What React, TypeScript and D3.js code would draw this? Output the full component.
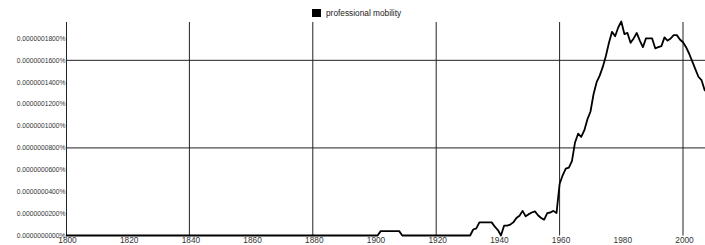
import * as d3 from "d3";

const WIDTH = 705;
const HEIGHT = 245;
const MARGIN = { top: 22, right: 0, bottom: 9.5, left: 66 };

const SERIES_NAME = "professional mobility";

// years 1800..2008, values in units of 0.0000000001 %
const START_YEAR = 1800;
const ZERO_1800_1901 = Array(102).fill(0);
const VALUES_1902_2008 = [
  40, 40, 40, 40, 40, 40, 40, 0, 0, 0, // 1902-1911
  0, 0, 0, 0, 0, 0, 0, 0, 0, 0, // 1912-1921
  0, 0, 0, 0, 0, 0, 0, 0, 0, 0, // 1922-1931
  55, 65, 120, 120, 120, 120, 120, 80, 50, 0, // 1932-1941
  90, 90, 100, 120, 160, 180, 225, 175, 195, 210, // 1942-1951
  220, 185, 160, 145, 205, 210, 225, 205, 470, 550, // 1952-1961
  610, 620, 680, 850, 930, 900, 960, 1060, 1130, 1290, // 1962-1971
  1400, 1460, 1540, 1640, 1760, 1860, 1820, 1900, 1955, 1840, // 1972-1981
  1850, 1760, 1800, 1850, 1780, 1720, 1800, 1800, 1800, 1710, // 1982-1991
  1720, 1730, 1810, 1780, 1800, 1830, 1830, 1790, 1765, 1720, // 1992-2001
  1660, 1590, 1520, 1450, 1420, 1330, 1300, // 2002-2008
];
const VALUES = [...ZERO_1800_1901, ...VALUES_1902_2008];

const X_TICKS = [1800, 1820, 1840, 1860, 1880, 1900, 1920, 1940, 1960, 1980, 2000];
const X_GRID = [1840, 1880, 1920, 1960, 2000];
const Y_TICKS = [0, 200, 400, 600, 800, 1000, 1200, 1400, 1600, 1800];
const Y_GRID = [800, 1600];

const fmtY = (v: number) => `0.${String(v).padStart(10, "0")}%`;

export default function App() {
  const data = VALUES.map((v, i) => ({ year: START_YEAR + i, value: v }));

  const xScale = d3
    .scaleLinear()
    .domain([1800, 2008])
    .range([MARGIN.left, MARGIN.left + 208 * 3.085]);
  const yScale = d3
    .scaleLinear()
    .domain([0, 1950])
    .range([HEIGHT - MARGIN.bottom, MARGIN.top]);

  const line = d3
    .line<{ year: number; value: number }>()
    .x((d) => xScale(d.year))
    .y((d) => yScale(d.value));

  const plotBottom = yScale(0);
  const font = "'Liberation Sans', Arial, sans-serif";

  return (
    <svg
      width={WIDTH}
      height={HEIGHT}
      style={{ position: "absolute", left: 0, top: 0, background: "#fff" }}
    >
      <defs>
        <clipPath id="plot">
          <rect x={MARGIN.left} y={0} width={WIDTH - MARGIN.left} height={HEIGHT} />
        </clipPath>
      </defs>

      {/* legend */}
      <rect x={312} y={9} width={9} height={8} fill="#000" />
      <text x={326} y={16} fontSize={8.3} fontFamily={font} fill="#222">
        {SERIES_NAME}
      </text>

      {/* grid */}
      {X_GRID.map((yr) => (
        <line
          key={yr}
          x1={xScale(yr)}
          x2={xScale(yr)}
          y1={MARGIN.top}
          y2={plotBottom}
          stroke="#222"
          strokeWidth={1}
        />
      ))}
      {Y_GRID.map((v) => (
        <line
          key={v}
          x1={MARGIN.left}
          x2={WIDTH}
          y1={yScale(v)}
          y2={yScale(v)}
          stroke="#222"
          strokeWidth={1}
        />
      ))}

      {/* left axis */}
      <line
        x1={MARGIN.left + 0.5}
        x2={MARGIN.left + 0.5}
        y1={MARGIN.top}
        y2={plotBottom}
        stroke="#222"
      />

      {/* y labels */}
      {Y_TICKS.map((v) => (
        <text
          key={v}
          x={65.5}
          y={yScale(v)}
          dy="0.35em"
          textAnchor="end"
          fontSize={6.7}
          fontFamily={font}
          fill="#333"
        >
          {fmtY(v)}
        </text>
      ))}

      {/* x labels */}
      {X_TICKS.map((yr) => (
        <text
          key={yr}
          x={xScale(yr) + 1.5}
          y={242.5}
          textAnchor="middle"
          fontSize={8.3}
          fontFamily={font}
          fill="#333"
        >
          {yr}
        </text>
      ))}

      {/* series */}
      <path
        d={line(data) ?? ""}
        fill="none"
        stroke="#000"
        strokeWidth={1.8}
        strokeLinejoin="round"
        clipPath="url(#plot)"
      />
    </svg>
  );
}
